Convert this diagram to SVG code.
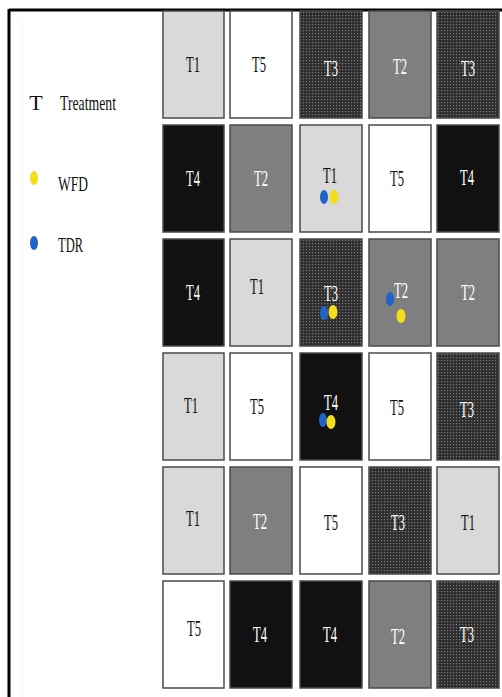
<svg xmlns="http://www.w3.org/2000/svg" width="502" height="697" viewBox="0 0 502 697">
<style>
.c{stroke:#4a4a4a;stroke-width:1.5}
.t1{fill:#d9d9d9}.t2{fill:#7f7f7f}.t3{fill:url(#dots)}.t4{fill:#111}.t5{fill:#fff}
.lb{font-family:"Liberation Serif",serif;font-size:24px;text-anchor:middle}
.k{fill:#111}.w{fill:#fff}
.lg{font-family:"Liberation Serif",serif;font-size:22px;fill:#111}
.y{fill:#f2de1a}.b{fill:#1f64c8}
</style>
<defs>
<pattern id="dots" width="3" height="3" patternUnits="userSpaceOnUse">
<rect width="3" height="3" fill="#2e2e2e"/>
<rect x="0" y="0" width="1.2" height="1.2" fill="#7a7a7a"/>
</pattern>
</defs>
<rect width="502" height="697" fill="#fff"/>
<line x1="9" y1="10" x2="502" y2="10" stroke="#000" stroke-width="3"/>
<line x1="9" y1="9" x2="9" y2="697" stroke="#000" stroke-width="3"/>
<line x1="22" y1="20" x2="22" y2="697" stroke="#f2f2f2" stroke-width="1"/>
<g id="legend">
<text class="lg" x="36" y="110" text-anchor="middle">T</text>
<text class="lg" x="60" y="110" textLength="56" lengthAdjust="spacingAndGlyphs">Treatment</text>
<ellipse class="y" cx="34" cy="178" rx="4" ry="7"/>
<text class="lg" x="58" y="191" textLength="30" lengthAdjust="spacingAndGlyphs">WFD</text>
<ellipse class="b" cx="34" cy="243" rx="4" ry="7"/>
<text class="lg" x="58" y="252" textLength="25" lengthAdjust="spacingAndGlyphs">TDR</text>
</g>
<g id="r1">
<g id="c11"><rect class="c t1" x="163" y="11" width="61" height="107"/><text class="lb k" x="193" y="72" textLength="14" lengthAdjust="spacingAndGlyphs">T1</text></g>
<g id="c12"><rect class="c t5" x="230" y="11" width="62" height="107"/><text class="lb k" x="259" y="72" textLength="14" lengthAdjust="spacingAndGlyphs">T5</text></g>
<g id="c13"><rect class="c t3" x="300" y="11" width="62" height="107"/><text class="lb w" x="331" y="76" textLength="14" lengthAdjust="spacingAndGlyphs">T3</text></g>
<g id="c14"><rect class="c t2" x="369" y="11" width="62" height="107"/><text class="lb w" x="400" y="74" textLength="14" lengthAdjust="spacingAndGlyphs">T2</text></g>
<g id="c15"><rect class="c t3" x="437" y="11" width="62" height="107"/><text class="lb w" x="468" y="76" textLength="14" lengthAdjust="spacingAndGlyphs">T3</text></g>
</g>
<g id="r2">
<g id="c21"><rect class="c t4" x="163" y="125" width="61" height="107"/><text class="lb w" x="193" y="186" textLength="14" lengthAdjust="spacingAndGlyphs">T4</text></g>
<g id="c22"><rect class="c t2" x="230" y="125" width="62" height="107"/><text class="lb w" x="261" y="186" textLength="14" lengthAdjust="spacingAndGlyphs">T2</text></g>
<g id="c23"><rect class="c t1" x="300" y="125" width="62" height="107"/><text class="lb k" x="330" y="183" textLength="14" lengthAdjust="spacingAndGlyphs">T1</text><ellipse class="b" cx="324" cy="197" rx="4" ry="7"/><ellipse class="y" cx="334" cy="197" rx="4.5" ry="7"/></g>
<g id="c24"><rect class="c t5" x="369" y="125" width="62" height="107"/><text class="lb k" x="397" y="186" textLength="14" lengthAdjust="spacingAndGlyphs">T5</text></g>
<g id="c25"><rect class="c t4" x="437" y="125" width="62" height="107"/><text class="lb w" x="467" y="185" textLength="14" lengthAdjust="spacingAndGlyphs">T4</text></g>
</g>
<g id="r3">
<g id="c31"><rect class="c t4" x="163" y="239" width="61" height="107"/><text class="lb w" x="193" y="300" textLength="14" lengthAdjust="spacingAndGlyphs">T4</text></g>
<g id="c32"><rect class="c t1" x="230" y="239" width="62" height="107"/><text class="lb k" x="257" y="294" textLength="14" lengthAdjust="spacingAndGlyphs">T1</text></g>
<g id="c33"><rect class="c t3" x="300" y="239" width="62" height="107"/><text class="lb w" x="331" y="301" textLength="14" lengthAdjust="spacingAndGlyphs">T3</text><ellipse class="b" cx="324" cy="313" rx="4" ry="7"/><ellipse class="y" cx="333" cy="312" rx="4.5" ry="7"/></g>
<g id="c34"><rect class="c t2" x="369" y="239" width="62" height="107"/><text class="lb w" x="401" y="298" textLength="14" lengthAdjust="spacingAndGlyphs">T2</text><ellipse class="b" cx="390" cy="299" rx="4" ry="7"/><ellipse class="y" cx="401" cy="316" rx="4.5" ry="7"/></g>
<g id="c35"><rect class="c t2" x="437" y="239" width="62" height="107"/><text class="lb w" x="468" y="300" textLength="14" lengthAdjust="spacingAndGlyphs">T2</text></g>
</g>
<g id="r4">
<g id="c41"><rect class="c t1" x="163" y="353" width="61" height="107"/><text class="lb k" x="191" y="413" textLength="14" lengthAdjust="spacingAndGlyphs">T1</text></g>
<g id="c42"><rect class="c t5" x="230" y="353" width="62" height="107"/><text class="lb k" x="257" y="414" textLength="14" lengthAdjust="spacingAndGlyphs">T5</text></g>
<g id="c43"><rect class="c t4" x="300" y="353" width="62" height="107"/><text class="lb w" x="331" y="410" textLength="14" lengthAdjust="spacingAndGlyphs">T4</text><ellipse class="b" cx="323" cy="420" rx="4" ry="7"/><ellipse class="y" cx="331" cy="422" rx="4.5" ry="7"/></g>
<g id="c44"><rect class="c t5" x="369" y="353" width="62" height="107"/><text class="lb k" x="397" y="415" textLength="14" lengthAdjust="spacingAndGlyphs">T5</text></g>
<g id="c45"><rect class="c t3" x="437" y="353" width="62" height="107"/><text class="lb w" x="467" y="417" textLength="14" lengthAdjust="spacingAndGlyphs">T3</text></g>
</g>
<g id="r5">
<g id="c51"><rect class="c t1" x="163" y="467" width="61" height="107"/><text class="lb k" x="193" y="526" textLength="14" lengthAdjust="spacingAndGlyphs">T1</text></g>
<g id="c52"><rect class="c t2" x="230" y="467" width="62" height="107"/><text class="lb w" x="260" y="529" textLength="14" lengthAdjust="spacingAndGlyphs">T2</text></g>
<g id="c53"><rect class="c t5" x="300" y="467" width="62" height="107"/><text class="lb k" x="331" y="530" textLength="14" lengthAdjust="spacingAndGlyphs">T5</text></g>
<g id="c54"><rect class="c t3" x="369" y="467" width="62" height="107"/><text class="lb w" x="398" y="530" textLength="14" lengthAdjust="spacingAndGlyphs">T3</text></g>
<g id="c55"><rect class="c t1" x="437" y="467" width="62" height="107"/><text class="lb k" x="468" y="530" textLength="14" lengthAdjust="spacingAndGlyphs">T1</text></g>
</g>
<g id="r6">
<g id="c61"><rect class="c t5" x="163" y="581" width="61" height="107"/><text class="lb k" x="194" y="636" textLength="14" lengthAdjust="spacingAndGlyphs">T5</text></g>
<g id="c62"><rect class="c t4" x="230" y="581" width="62" height="107"/><text class="lb w" x="260" y="642" textLength="14" lengthAdjust="spacingAndGlyphs">T4</text></g>
<g id="c63"><rect class="c t4" x="300" y="581" width="62" height="107"/><text class="lb w" x="330" y="642" textLength="14" lengthAdjust="spacingAndGlyphs">T4</text></g>
<g id="c64"><rect class="c t2" x="369" y="581" width="62" height="107"/><text class="lb w" x="398" y="644" textLength="14" lengthAdjust="spacingAndGlyphs">T2</text></g>
<g id="c65"><rect class="c t3" x="437" y="581" width="62" height="107"/><text class="lb w" x="467" y="642" textLength="14" lengthAdjust="spacingAndGlyphs">T3</text></g>
</g>
<g id="connectors"></g>
</svg>
